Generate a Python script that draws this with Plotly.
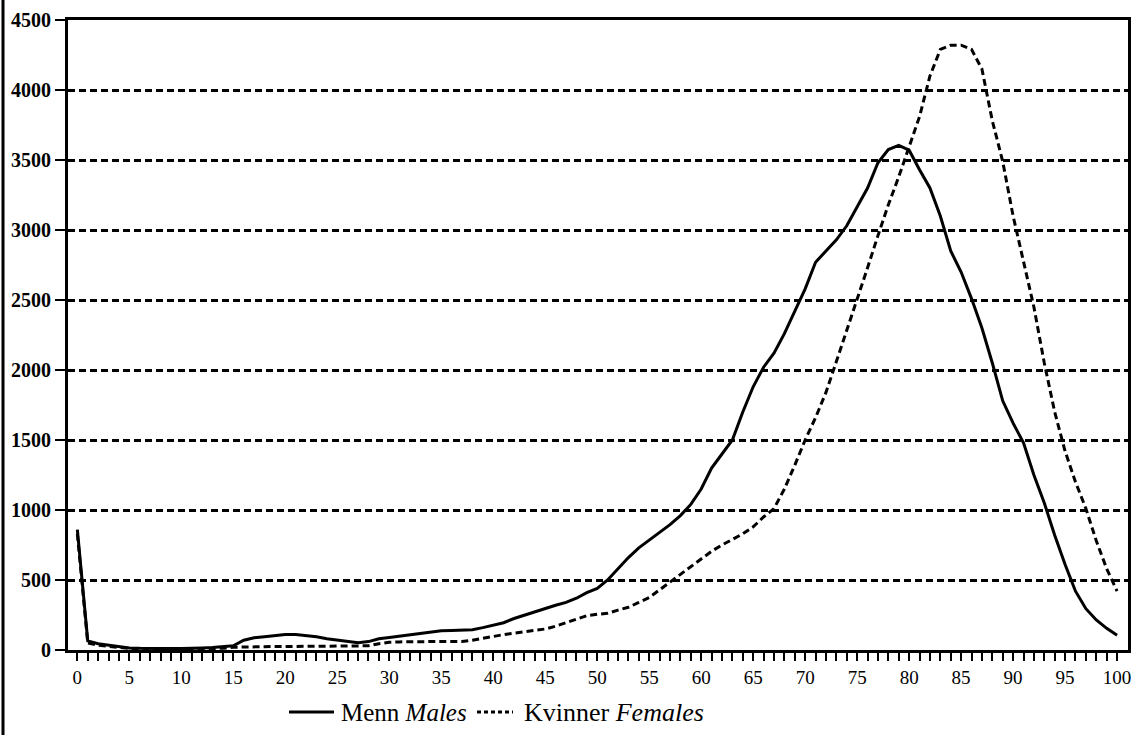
import plotly.graph_objects as go

ages = list(range(0, 101))

males = [860, 65, 45, 35, 25, 15, 12, 10, 10, 10,
         10, 10, 15, 18, 22, 30, 70, 88, 95, 105,
         110, 110, 105, 95, 80, 70, 60, 52, 60, 80,
         90, 100, 110, 120, 130, 137, 140, 140, 145, 160,
         180, 195, 225, 250, 275, 295, 320, 340, 370, 410,
         440, 500, 580, 660, 730, 785, 840, 895, 960, 1040,
         1150, 1300, 1400, 1500, 1700, 1880, 2020, 2120, 2260, 2420,
         2580, 2770, 2850, 2930, 3030, 3160, 3300, 3480, 3575, 3605,
         3570, 3430, 3300, 3100, 2850, 2700, 2510, 2300, 2050, 1780,
         1620, 1480, 1250, 1050, 820, 610, 420, 295, 215, 155,
         105]

females = [830, 50, 35, 25, 18, 12, 8, 8, 8, 8,
           8, 8, 8, 8, 12, 20, 22, 25, 25, 25,
           25, 25, 25, 25, 25, 25, 25, 25, 30, 45,
           55, 58, 60, 60, 60, 60, 60, 60, 70, 85,
           95, 110, 120, 130, 140, 150, 170, 195, 220, 245,
           255, 262, 285, 305, 340, 375, 430, 485, 540, 590,
           650, 705, 750, 790, 830, 880, 950, 1010, 1150, 1320,
           1500, 1660, 1840, 2060, 2280, 2500, 2730, 2960, 3180, 3380,
           3600, 3810, 4100, 4290, 4320, 4320, 4290, 4150, 3780, 3490,
           3100, 2780, 2450, 2050, 1700, 1420, 1200, 1010, 780, 580,
           420]

x_tick_vals = list(range(0, 101))
x_tick_text = [str(a) if a % 5 == 0 else "" for a in x_tick_vals]
y_tick_vals = [0, 500, 1000, 1500, 2000, 2500, 3000, 3500, 4000, 4500]

legend_labels = ["Menn <i>Males</i>", "Kvinner <i>Females</i>"]

SERIF = "Liberation Serif"

W, H = 1139, 735
L, R, T, B = 68, 11, 20, 85
pw = W - L - R
ph = H - T - B


def px(xp):
    return (xp - L) / pw


def py(yp):
    return (H - B - yp) / ph


fig = go.Figure()
fig.add_trace(go.Scatter(x=ages, y=males, mode="lines", showlegend=False,
                         line=dict(color="black", width=3)))
fig.add_trace(go.Scatter(x=ages, y=females, mode="lines", showlegend=False,
                         line=dict(color="black", width=3, dash="7px,4px")))

legend_y = 712
shapes = [
    # left page border
    dict(type="line", xref="paper", yref="paper",
         x0=px(3), x1=px(3), y0=py(0), y1=py(H),
         line=dict(color="black", width=3)),
    # legend samples
    dict(type="line", xref="paper", yref="paper",
         x0=px(289), x1=px(334), y0=py(legend_y), y1=py(legend_y),
         line=dict(color="black", width=3)),
    dict(type="line", xref="paper", yref="paper",
         x0=px(477), x1=px(513), y0=py(legend_y), y1=py(legend_y),
         line=dict(color="black", width=3, dash="4px,3px")),
]

annotations = [
    dict(text=legend_labels[0], xref="paper", yref="paper",
         x=px(339), y=py(legend_y), xanchor="left", yanchor="middle",
         showarrow=False, font=dict(family=SERIF, size=25, color="black")),
    dict(text=legend_labels[1], xref="paper", yref="paper",
         x=px(522), y=py(legend_y), xanchor="left", yanchor="middle",
         showarrow=False, font=dict(family=SERIF, size=26, color="black")),
]

fig.update_layout(
    width=W, height=H,
    margin=dict(l=L, r=R, t=T, b=B, pad=0, autoexpand=False),
    paper_bgcolor="white", plot_bgcolor="white",
    font=dict(family=SERIF, color="black", size=18),
    showlegend=False,
    xaxis=dict(range=[-0.9, 101.05], tickmode="array", tickvals=x_tick_vals,
               ticktext=x_tick_text, ticks="outside", ticklen=8, tickwidth=2,
               tickcolor="black", showgrid=False, zeroline=False, automargin=False,
               showline=True, linecolor="black", linewidth=3, mirror=True,
               tickfont=dict(family=SERIF, size=19, color="black")),
    yaxis=dict(range=[0, 4500], tickmode="array", tickvals=y_tick_vals,
               ticks="outside", ticklen=10, tickwidth=2, tickcolor="black",
               showgrid=True, gridcolor="black", gridwidth=3, griddash="7px,4px",
               zeroline=False, showline=True, linecolor="black", linewidth=3,
               mirror=True, automargin=False,
               tickfont=dict(family=SERIF, size=20, color="black", weight="bold")),
    shapes=shapes,
    annotations=annotations,
)

fig.write_html(
    "out.html",
    config={"displayModeBar": False},
    post_script="document.body.style.margin='0';document.body.style.padding='0';"
                "document.body.style.overflow='hidden';",
)
